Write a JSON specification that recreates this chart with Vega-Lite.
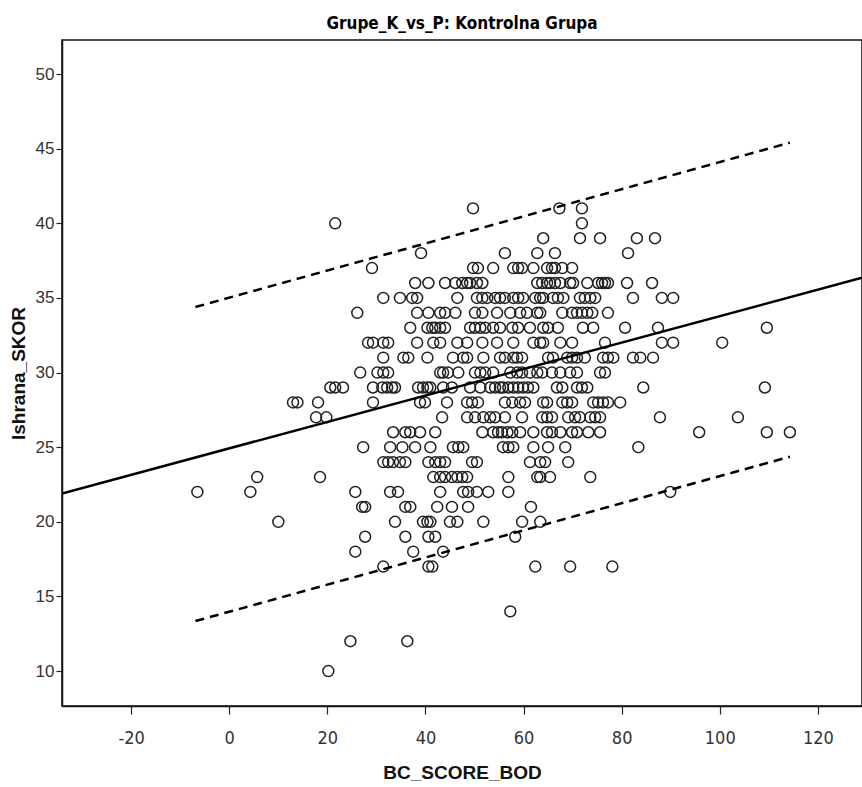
{
  "$schema": "https://vega.github.io/schema/vega-lite/v6.json",
  "width": 800,
  "height": 666,
  "autosize": {"type": "none"},
  "padding": {"left": 62, "top": 40, "right": 0, "bottom": 81},
  "background": "white",
  "title": {"text": "Grupe_K_vs_P: Kontrolna Grupa", "font": "DejaVu Sans Condensed, Liberation Sans", "fontWeight": "bold", "fontSize": 17, "color": "black", "anchor": "middle", "offset": 7},
  "config": {
    "view": {"stroke": "#111", "strokeWidth": 1.5},
    "axis": {"grid": false, "domainColor": "#111", "domainWidth": 1.5, "tickColor": "#222", "tickWidth": 1.2, "labelColor": "#333", "titleColor": "#111"}
  },
  "datasets": {
    "pts": [
      {"x":49.7,"y":41},{"x":67.3,"y":41},{"x":71.9,"y":41},
      {"x":21.6,"y":40},{"x":71.9,"y":40},
      {"x":64.0,"y":39},{"x":71.5,"y":39},{"x":75.6,"y":39},{"x":83.1,"y":39},{"x":86.8,"y":39},
      {"x":39.1,"y":38},{"x":56.2,"y":38},{"x":62.8,"y":38},{"x":66.4,"y":38},{"x":81.3,"y":38},
      {"x":29.1,"y":37},{"x":49.7,"y":37},{"x":50.7,"y":37},{"x":53.8,"y":37},{"x":57.9,"y":37},{"x":58.9,"y":37},{"x":59.7,"y":37},{"x":62.0,"y":37},{"x":64.8,"y":37},{"x":65.8,"y":37},{"x":66.4,"y":37},{"x":67.9,"y":37},{"x":69.9,"y":37},
      {"x":37.9,"y":36},{"x":40.6,"y":36},{"x":44.0,"y":36},{"x":46.1,"y":36},{"x":47.5,"y":36},{"x":48.5,"y":36},{"x":49.1,"y":36},{"x":50.5,"y":36},{"x":51.6,"y":36},{"x":62.8,"y":36},{"x":63.8,"y":36},{"x":64.8,"y":36},{"x":65.4,"y":36},{"x":66.4,"y":36},{"x":67.5,"y":36},{"x":69.5,"y":36},{"x":70.1,"y":36},{"x":73.0,"y":36},{"x":75.2,"y":36},{"x":76.0,"y":36},{"x":76.6,"y":36},{"x":77.2,"y":36},{"x":81.1,"y":36},{"x":86.2,"y":36},
      {"x":31.4,"y":35},{"x":34.8,"y":35},{"x":37.3,"y":35},{"x":38.3,"y":35},{"x":46.5,"y":35},{"x":50.5,"y":35},{"x":51.6,"y":35},{"x":52.6,"y":35},{"x":54.2,"y":35},{"x":55.2,"y":35},{"x":56.2,"y":35},{"x":57.9,"y":35},{"x":58.9,"y":35},{"x":59.9,"y":35},{"x":62.4,"y":35},{"x":63.4,"y":35},{"x":64.0,"y":35},{"x":66.0,"y":35},{"x":67.0,"y":35},{"x":68.1,"y":35},{"x":71.5,"y":35},{"x":72.5,"y":35},{"x":73.6,"y":35},{"x":74.6,"y":35},{"x":82.3,"y":35},{"x":88.2,"y":35},{"x":90.5,"y":35},
      {"x":26.1,"y":34},{"x":38.3,"y":34},{"x":40.6,"y":34},{"x":43.0,"y":34},{"x":44.0,"y":34},{"x":46.1,"y":34},{"x":50.1,"y":34},{"x":51.6,"y":34},{"x":54.6,"y":34},{"x":57.3,"y":34},{"x":59.3,"y":34},{"x":60.7,"y":34},{"x":62.8,"y":34},{"x":63.4,"y":34},{"x":67.9,"y":34},{"x":69.9,"y":34},{"x":70.9,"y":34},{"x":71.9,"y":34},{"x":73.0,"y":34},{"x":74.0,"y":34},{"x":77.2,"y":34},
      {"x":36.9,"y":33},{"x":40.4,"y":33},{"x":41.4,"y":33},{"x":42.0,"y":33},{"x":43.0,"y":33},{"x":44.0,"y":33},{"x":49.1,"y":33},{"x":50.1,"y":33},{"x":51.2,"y":33},{"x":52.2,"y":33},{"x":53.8,"y":33},{"x":55.2,"y":33},{"x":57.7,"y":33},{"x":58.9,"y":33},{"x":61.3,"y":33},{"x":64.0,"y":33},{"x":65.0,"y":33},{"x":67.0,"y":33},{"x":72.1,"y":33},{"x":74.2,"y":33},{"x":80.7,"y":33},{"x":87.4,"y":33},{"x":109.6,"y":33},
      {"x":28.3,"y":32},{"x":29.3,"y":32},{"x":31.4,"y":32},{"x":32.4,"y":32},{"x":38.3,"y":32},{"x":41.6,"y":32},{"x":43.0,"y":32},{"x":46.5,"y":32},{"x":48.5,"y":32},{"x":51.6,"y":32},{"x":54.6,"y":32},{"x":57.9,"y":32},{"x":62.0,"y":32},{"x":63.4,"y":32},{"x":64.0,"y":32},{"x":67.5,"y":32},{"x":69.9,"y":32},{"x":76.6,"y":32},{"x":88.2,"y":32},{"x":90.5,"y":32},{"x":100.5,"y":32},
      {"x":31.4,"y":31},{"x":35.5,"y":31},{"x":36.5,"y":31},{"x":40.4,"y":31},{"x":45.6,"y":31},{"x":47.7,"y":31},{"x":48.5,"y":31},{"x":51.8,"y":31},{"x":55.2,"y":31},{"x":56.2,"y":31},{"x":57.9,"y":31},{"x":58.7,"y":31},{"x":59.7,"y":31},{"x":65.0,"y":31},{"x":66.0,"y":31},{"x":68.9,"y":31},{"x":69.9,"y":31},{"x":70.9,"y":31},{"x":72.5,"y":31},{"x":76.2,"y":31},{"x":77.2,"y":31},{"x":78.3,"y":31},{"x":82.3,"y":31},{"x":83.8,"y":31},{"x":86.4,"y":31},
      {"x":26.7,"y":30},{"x":30.2,"y":30},{"x":31.4,"y":30},{"x":32.4,"y":30},{"x":43.0,"y":30},{"x":43.6,"y":30},{"x":44.6,"y":30},{"x":46.7,"y":30},{"x":50.1,"y":30},{"x":51.2,"y":30},{"x":52.2,"y":30},{"x":53.8,"y":30},{"x":57.3,"y":30},{"x":58.7,"y":30},{"x":59.7,"y":30},{"x":61.3,"y":30},{"x":62.8,"y":30},{"x":63.8,"y":30},{"x":65.8,"y":30},{"x":67.5,"y":30},{"x":69.5,"y":30},{"x":70.9,"y":30},{"x":75.6,"y":30},{"x":76.6,"y":30},
      {"x":20.6,"y":29},{"x":21.6,"y":29},{"x":23.2,"y":29},{"x":29.3,"y":29},{"x":31.2,"y":29},{"x":32.2,"y":29},{"x":33.2,"y":29},{"x":33.8,"y":29},{"x":38.5,"y":29},{"x":39.5,"y":29},{"x":40.4,"y":29},{"x":41.0,"y":29},{"x":43.6,"y":29},{"x":45.4,"y":29},{"x":49.1,"y":29},{"x":51.2,"y":29},{"x":53.2,"y":29},{"x":54.2,"y":29},{"x":55.2,"y":29},{"x":55.8,"y":29},{"x":56.9,"y":29},{"x":57.9,"y":29},{"x":58.9,"y":29},{"x":59.9,"y":29},{"x":60.9,"y":29},{"x":62.0,"y":29},{"x":66.8,"y":29},{"x":67.9,"y":29},{"x":70.9,"y":29},{"x":71.9,"y":29},{"x":73.0,"y":29},{"x":84.4,"y":29},{"x":109.2,"y":29},
      {"x":13.0,"y":28},{"x":13.9,"y":28},{"x":18.1,"y":28},{"x":29.3,"y":28},{"x":38.9,"y":28},{"x":39.9,"y":28},{"x":44.4,"y":28},{"x":48.5,"y":28},{"x":49.5,"y":28},{"x":50.7,"y":28},{"x":56.2,"y":28},{"x":57.7,"y":28},{"x":59.3,"y":28},{"x":60.3,"y":28},{"x":64.0,"y":28},{"x":64.8,"y":28},{"x":67.9,"y":28},{"x":68.9,"y":28},{"x":69.9,"y":28},{"x":74.2,"y":28},{"x":75.2,"y":28},{"x":76.2,"y":28},{"x":77.2,"y":28},{"x":79.7,"y":28},
      {"x":17.7,"y":27},{"x":19.8,"y":27},{"x":43.4,"y":27},{"x":48.5,"y":27},{"x":50.1,"y":27},{"x":51.8,"y":27},{"x":53.2,"y":27},{"x":54.2,"y":27},{"x":56.2,"y":27},{"x":59.7,"y":27},{"x":63.8,"y":27},{"x":64.8,"y":27},{"x":65.8,"y":27},{"x":69.1,"y":27},{"x":70.5,"y":27},{"x":71.5,"y":27},{"x":73.6,"y":27},{"x":74.6,"y":27},{"x":75.6,"y":27},{"x":87.8,"y":27},{"x":103.7,"y":27},
      {"x":33.4,"y":26},{"x":35.9,"y":26},{"x":36.9,"y":26},{"x":38.9,"y":26},{"x":42.0,"y":26},{"x":51.6,"y":26},{"x":53.8,"y":26},{"x":54.8,"y":26},{"x":55.6,"y":26},{"x":56.7,"y":26},{"x":57.7,"y":26},{"x":59.3,"y":26},{"x":62.0,"y":26},{"x":64.8,"y":26},{"x":65.8,"y":26},{"x":67.5,"y":26},{"x":69.9,"y":26},{"x":70.9,"y":26},{"x":73.2,"y":26},{"x":75.6,"y":26},{"x":95.8,"y":26},{"x":109.6,"y":26},{"x":114.3,"y":26},
      {"x":27.3,"y":25},{"x":32.8,"y":25},{"x":35.3,"y":25},{"x":37.9,"y":25},{"x":41.0,"y":25},{"x":45.6,"y":25},{"x":46.7,"y":25},{"x":47.7,"y":25},{"x":55.8,"y":25},{"x":56.9,"y":25},{"x":57.9,"y":25},{"x":62.0,"y":25},{"x":65.0,"y":25},{"x":68.5,"y":25},{"x":83.4,"y":25},
      {"x":31.4,"y":24},{"x":32.4,"y":24},{"x":33.4,"y":24},{"x":34.8,"y":24},{"x":35.9,"y":24},{"x":40.6,"y":24},{"x":42.0,"y":24},{"x":43.0,"y":24},{"x":44.0,"y":24},{"x":49.5,"y":24},{"x":50.5,"y":24},{"x":61.3,"y":24},{"x":63.4,"y":24},{"x":64.4,"y":24},{"x":69.1,"y":24},
      {"x":5.7,"y":23},{"x":18.5,"y":23},{"x":41.6,"y":23},{"x":43.0,"y":23},{"x":44.0,"y":23},{"x":45.4,"y":23},{"x":46.5,"y":23},{"x":47.5,"y":23},{"x":48.5,"y":23},{"x":56.9,"y":23},{"x":62.8,"y":23},{"x":63.4,"y":23},{"x":65.4,"y":23},{"x":73.6,"y":23},
      {"x":-6.5,"y":22},{"x":4.3,"y":22},{"x":25.7,"y":22},{"x":32.8,"y":22},{"x":34.4,"y":22},{"x":43.0,"y":22},{"x":47.7,"y":22},{"x":48.7,"y":22},{"x":50.5,"y":22},{"x":52.8,"y":22},{"x":56.9,"y":22},{"x":89.9,"y":22},
      {"x":27.1,"y":21},{"x":27.7,"y":21},{"x":35.9,"y":21},{"x":36.9,"y":21},{"x":42.4,"y":21},{"x":45.4,"y":21},{"x":48.7,"y":21},{"x":61.5,"y":21},
      {"x":10.0,"y":20},{"x":33.8,"y":20},{"x":39.5,"y":20},{"x":40.4,"y":20},{"x":41.0,"y":20},{"x":45.0,"y":20},{"x":46.5,"y":20},{"x":51.8,"y":20},{"x":59.7,"y":20},{"x":63.4,"y":20},
      {"x":27.7,"y":19},{"x":35.9,"y":19},{"x":40.6,"y":19},{"x":42.0,"y":19},{"x":58.3,"y":19},
      {"x":25.7,"y":18},{"x":37.5,"y":18},{"x":43.6,"y":18},
      {"x":31.4,"y":17},{"x":40.6,"y":17},{"x":41.4,"y":17},{"x":62.4,"y":17},{"x":69.5,"y":17},{"x":78.1,"y":17},
      {"x":57.3,"y":14},
      {"x":24.7,"y":12},{"x":36.3,"y":12},
      {"x":20.2,"y":10}
    ],
    "fit": [{"x": -34.1, "y": 21.9}, {"x": 129, "y": 36.35}],
    "band": [
      {"x": -6.9, "y": 34.39, "line": "upper"}, {"x": 114.3, "y": 45.4, "line": "upper"},
      {"x": -6.9, "y": 13.35, "line": "lower"}, {"x": 114.3, "y": 24.36, "line": "lower"}
    ]
  },
  "layer": [
    {
      "data": {"name": "pts"},
      "mark": {"type": "point", "shape": "circle", "filled": false, "stroke": "#222", "strokeWidth": 1.5, "size": 120, "opacity": 1},
      "encoding": {
        "x": {"field": "x", "type": "quantitative", "scale": {"domain": [-34.1, 129], "nice": false, "zero": false},
          "axis": {"values": [-20, 0, 20, 40, 60, 80, 100, 120], "labelExpr": "datum.value < 0 ? '-' + abs(datum.value) : '' + datum.value", "title": "BC_SCORE_BOD", "titleFont": "Liberation Sans", "titleFontWeight": "bold", "titleFontSize": 19, "titlePadding": 16, "labelFont": "DejaVu Sans Condensed, Liberation Sans", "labelFontSize": 18, "labelPadding": 15, "tickSize": 8, "labelFlush": false}},
        "y": {"field": "y", "type": "quantitative", "scale": {"domain": [7.66, 52.28], "nice": false, "zero": false},
          "axis": {"values": [10, 15, 20, 25, 30, 35, 40, 45, 50], "title": "Ishrana_SKOR", "titleFont": "Liberation Sans", "titleFontWeight": "bold", "titleFontSize": 19, "titlePadding": 7, "labelFont": "Liberation Sans", "labelFontSize": 17, "labelPadding": 2, "tickSize": 6, "labelFlush": false}}
      }
    },
    {
      "data": {"name": "fit"},
      "mark": {"type": "line", "color": "black", "strokeWidth": 2.5, "clip": true},
      "encoding": {
        "x": {"field": "x", "type": "quantitative"},
        "y": {"field": "y", "type": "quantitative"}
      }
    },
    {
      "data": {"name": "band"},
      "mark": {"type": "line", "color": "black", "strokeWidth": 2.5, "strokeDash": [9, 6], "clip": true},
      "encoding": {
        "x": {"field": "x", "type": "quantitative"},
        "y": {"field": "y", "type": "quantitative"},
        "detail": {"field": "line", "type": "nominal"}
      }
    }
  ]
}
